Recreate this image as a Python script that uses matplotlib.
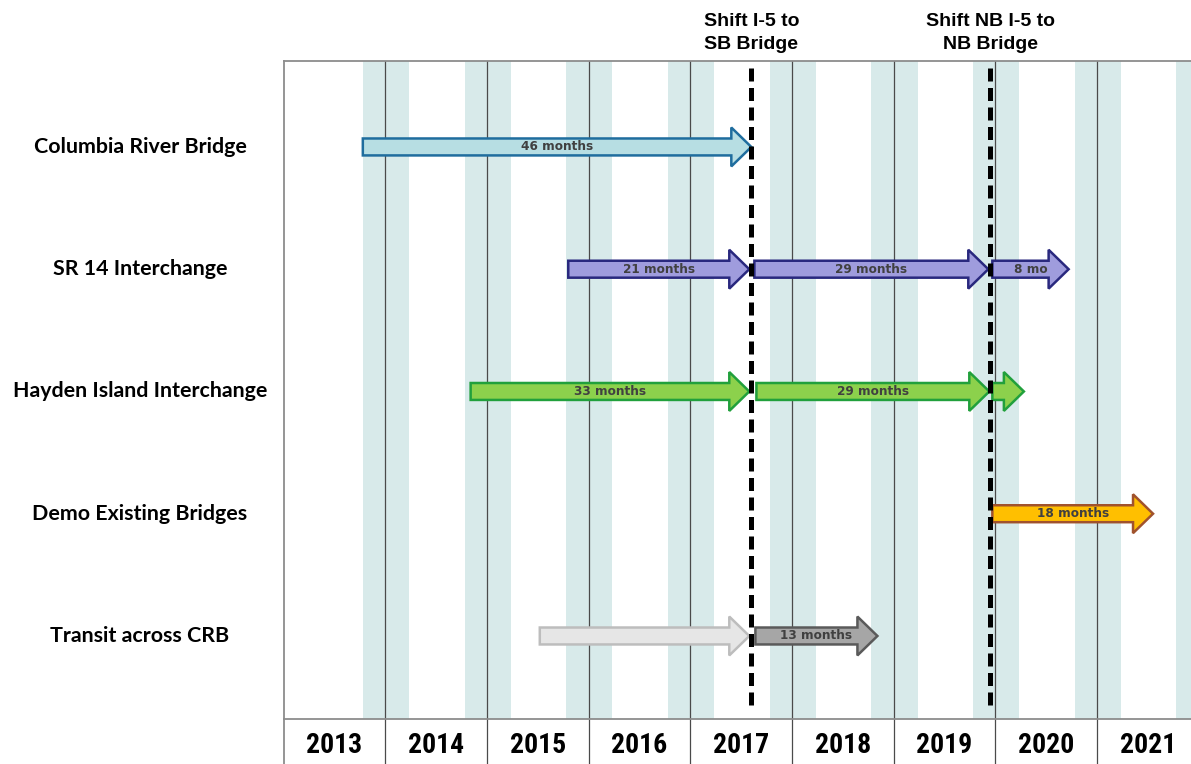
import matplotlib
matplotlib.use("Agg")
import matplotlib.pyplot as plt
from matplotlib import font_manager
from matplotlib.patches import FancyArrowPatch, ArrowStyle
from matplotlib.transforms import blended_transform_factory

# ---------------- data ----------------
tasks = ["Columbia River Bridge", "SR 14 Interchange", "Hayden Island Interchange",
         "Demo Existing Bridges", "Transit across CRB"]
years = [2013, 2014, 2015, 2016, 2017, 2018, 2019, 2020, 2021]

milestone_dates = [2017.60, 2019.95]
milestone_labels = ["Shift I-5 to\nSB Bridge", "Shift NB I-5 to\nNB Bridge"]

seg_task = [0, 1, 1, 1, 2, 2, 2, 3, 4, 4]
seg_start = [2013.78, 2015.80, 2017.63, 2019.97, 2014.84, 2017.65, 2019.97, 2019.97, 2015.52, 2017.64]
seg_end = [2017.60, 2017.58, 2019.93, 2020.72, 2017.58, 2019.94, 2020.28, 2021.55, 2017.58, 2018.84]
seg_label = ["46 months", "21 months", "29 months", "8 mo", "33 months", "29 months", "",
             "18 months", "", "13 months"]
seg_fill = ["#B7DEE3", "#9F9CDD", "#9F9CDD", "#9F9CDD", "#8CD14C", "#8CD14C", "#8CD14C",
            "#FFBF00", "#E6E6E6", "#A6A6A6"]
seg_edge = ["#1F6D9E", "#29287E", "#29287E", "#29287E", "#21A03C", "#21A03C", "#21A03C",
            "#A0522D", "#BDBDBD", "#5A5A5A"]

band_color = "#D8EAEA"
grid_color = "#4A4A4A"
frame_color = "#8C8C8C"

# pick a condensed family for the year row if one is installed
available = {f.name for f in font_manager.fontManager.ttflist}
year_family, year_size = "Lato", 17
for cand in ["Liberation Sans Narrow", "Roboto Condensed", "Open Sans Condensed",
             "DejaVu Sans Condensed", "Noto Sans Condensed"]:
    if cand in available:
        year_family, year_size = cand, 20
        break

# ---------------- layout ----------------
W, H = 1191, 764
fig = plt.figure(figsize=(W / 100, H / 100), dpi=100)

ax_left = 283.5 / W
ax_w = 1 - ax_left
strip_h = (H - 719) / H
ax = fig.add_axes([ax_left, strip_h, ax_w, (719 - 61) / H])
axs = fig.add_axes([ax_left, 0, ax_w, strip_h], sharex=ax)

x0 = years[0]
x1 = years[0] + 907.5 / 101.7
ax.set_xlim(x0, x1)
ax.set_ylim(4.679, -0.703)
axs.set_ylim(0, 1)

for a in (ax, axs):
    a.set_xticks([])
    a.set_yticks([])
    a.spines["right"].set_visible(False)
    a.spines["bottom"].set_visible(False)
    a.spines["top"].set_color(frame_color)
    a.spines["left"].set_color(frame_color)
    a.spines["top"].set_linewidth(1.3)
    a.spines["left"].set_linewidth(1.3)

# winter bands & year lines
for yr in years[1:] + [years[-1] + 1]:
    ax.axvspan(yr - 0.22, yr + 0.235, color=band_color, lw=0, zorder=0)
for yr in years[1:]:
    ax.axvline(yr, color=grid_color, lw=0.9, zorder=1)
    axs.axvline(yr, color=grid_color, lw=0.9, zorder=1)

# year labels
for yr in years:
    axs.text(yr + 0.5, 0.42, str(yr), ha="center", va="center",
             fontsize=year_size, fontweight="bold",
             family=[year_family, "DejaVu Sans"])

# task labels
tr = blended_transform_factory(fig.transFigure, ax.transData)
for i, t in enumerate(tasks):
    ax.text(140 / W, i, t, transform=tr, ha="center", va="center",
            fontsize=15.4, fontweight="bold", family=["Lato", "DejaVu Sans"])

# arrows
style = ArrowStyle.Simple(head_length=14.4, head_width=28, tail_width=12.2)
for ti, s, e, lab, fc, ec in zip(seg_task, seg_start, seg_end, seg_label, seg_fill, seg_edge):
    arr = FancyArrowPatch((s, ti), (e, ti), arrowstyle=style, mutation_scale=1,
                          shrinkA=0, shrinkB=0, fc=fc, ec=ec, lw=1.8, zorder=3,
                          joinstyle="miter")
    ax.add_patch(arr)
    if lab:
        ax.text((s + e) / 2, ti, lab, ha="center", va="center", fontsize=8.7,
                fontweight="bold", color="#404040", family="DejaVu Sans", zorder=6)

# milestone lines
trm = blended_transform_factory(ax.transData, fig.transFigure)
for d, lab in zip(milestone_dates, milestone_labels):
    ax.axvline(d, ymin=(719 - 705) / 658, ymax=(719 - 68) / 658, color="black",
               lw=3.6, dashes=(2.6, 1.3), zorder=5)
    ax.text(d, 1 - 33 / H, lab, transform=trm, ha="center", va="center",
            fontsize=14, fontweight="bold", family=["Liberation Sans", "DejaVu Sans"],
            linespacing=1.4, clip_on=False)

fig.savefig("out.png", dpi=100)
